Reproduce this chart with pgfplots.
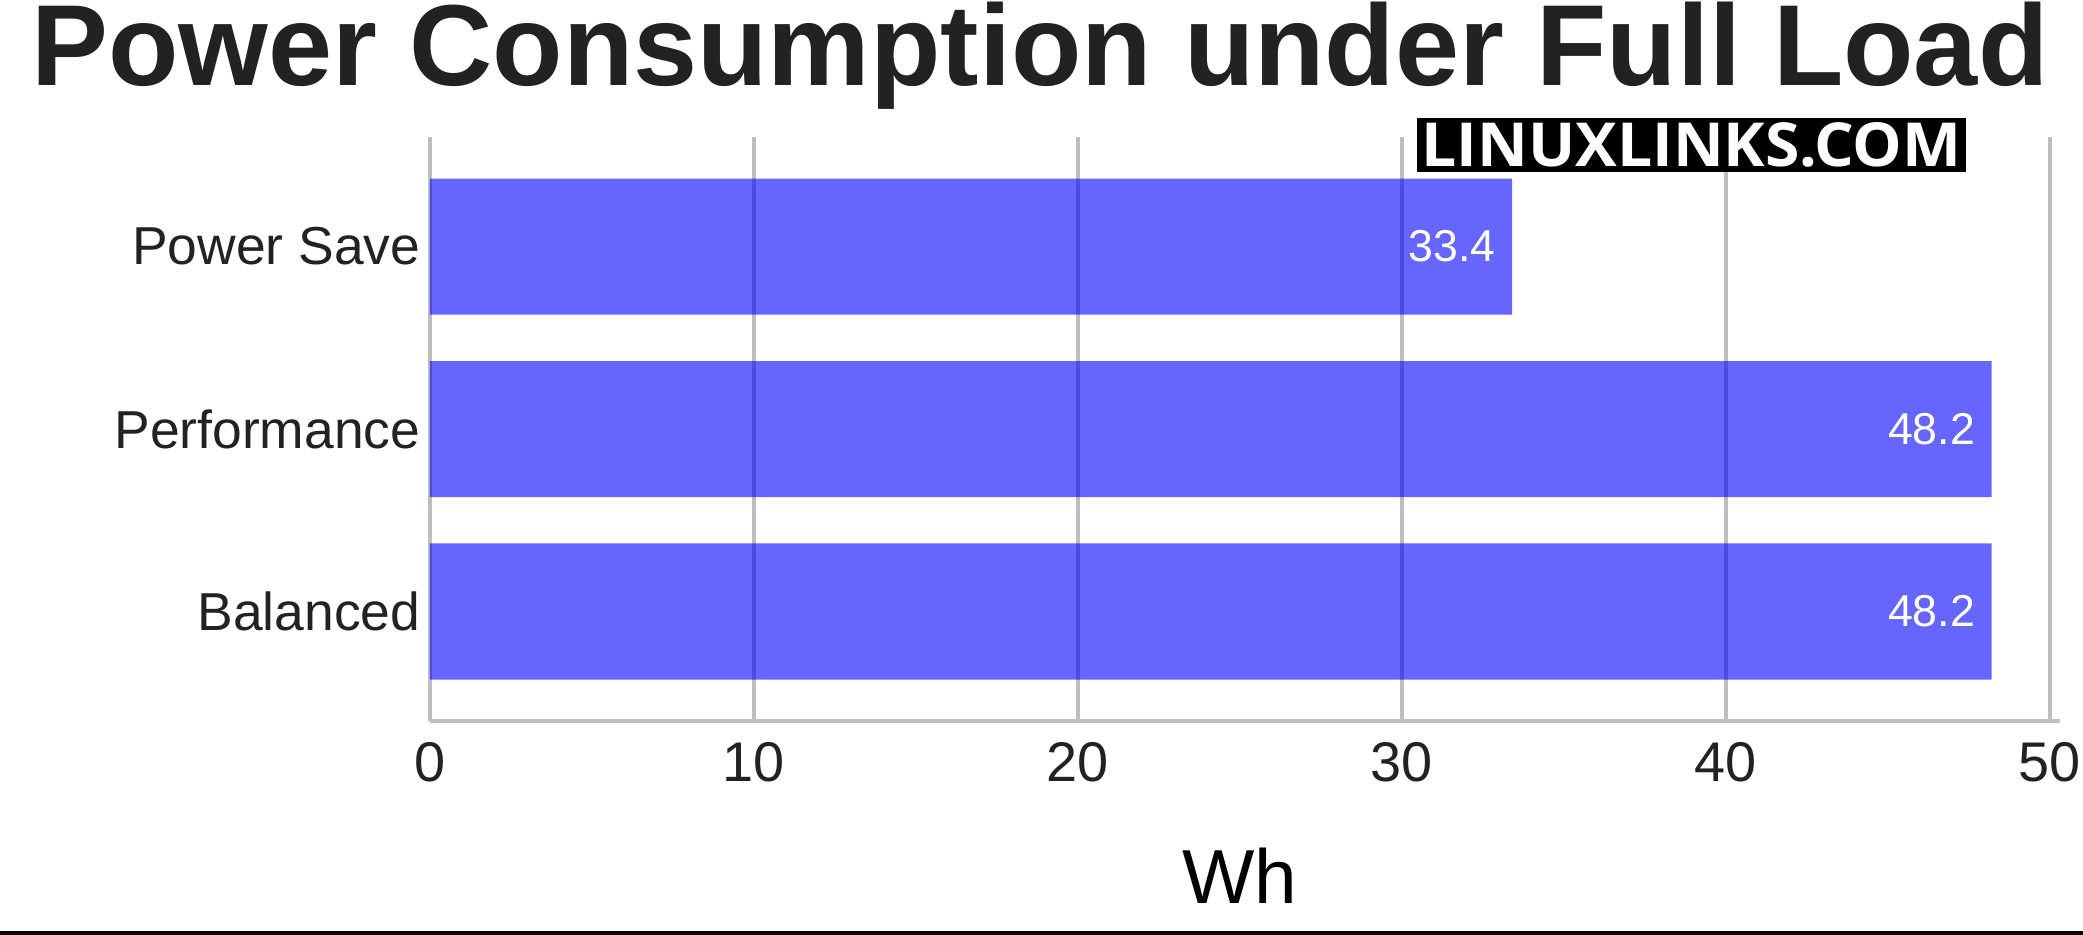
\documentclass[border=0pt]{standalone}
\usepackage{pgfplots}
\pgfplotsset{compat=1.18}
\usepackage{fontspec}
\setmainfont{Liberation Sans}
\newfontfamily\logofont{Open Sans}
\definecolor{txt}{HTML}{222222}
\definecolor{gridc}{HTML}{BEBEBE}
\begin{document}
\begin{tikzpicture}
\useasboundingbox (0,0) rectangle (208.3mm,93.5mm);
% title
\node[anchor=base, inner sep=0pt, text=txt] at (104mm,84.9mm)
  {\resizebox{201.6mm}{!}{\bfseries Power Consumption under Full Load}};
\begin{axis}[
  at={(43mm,21.4mm)}, anchor=south west,
  scale only axis, width=162mm, height=58.4mm,
  xmin=0, xmax=50, ymin=-0.6, ymax=2.6,
  xbar, bar width=13.6mm,
  axis x line=bottom, axis y line=left,
  axis line style={draw=gridc, line width=0.4mm, -},
  x axis line style={shorten >=-1mm},
  xmajorgrids, grid style={draw=gridc, line width=0.4mm},
  major tick length=0pt,
  xtick={0,10,20,30,40,50},
  ytick={0,1,2}, yticklabels={Balanced,Performance,Power Save},
  /pgf/number format/assume math mode=true,
  xticklabel style={anchor=north, inner sep=0pt, yshift=-2.1mm, text=txt, font=\fontsize{15.9}{18}\selectfont},
  yticklabel style={anchor=east, inner sep=0pt, xshift=-0.9mm, text=txt, font=\fontsize{15.2}{18}\selectfont},
  xlabel={Wh},
  xlabel style={at={(axis description cs:0.5,0)}, anchor=base, yshift=-18.2mm, inner sep=0pt, text=black, font=\fontsize{21.8}{24}\selectfont},
  point meta=x,
  nodes near coords={\pgfmathprintnumber[fixed,precision=1,fixed zerofill]{\pgfplotspointmeta}},
  nodes near coords style={anchor=east, inner sep=0pt, xshift=-1.6mm, text=white, font=\fontsize{12.7}{15}\selectfont},
  clip=false,
]
\addplot[fill=blue, fill opacity=0.6, draw=none, text opacity=1,
  nodes near coords style={anchor=east}] coordinates {
  (48.2,0)
  (48.2,1)
  (33.4,2)
};
\end{axis}
% logo
\node[fill=black, text=white, minimum width=54.9mm, minimum height=5.4mm, inner sep=0pt]
  at (169.15mm,79.0mm) {\resizebox{54.0mm}{4.4mm}{\logofont\bfseries LINUXLINKS.COM}};
\draw[black, line width=0.35mm] (0,0.2mm) -- (208.3mm,0.2mm);
\end{tikzpicture}
\end{document}
